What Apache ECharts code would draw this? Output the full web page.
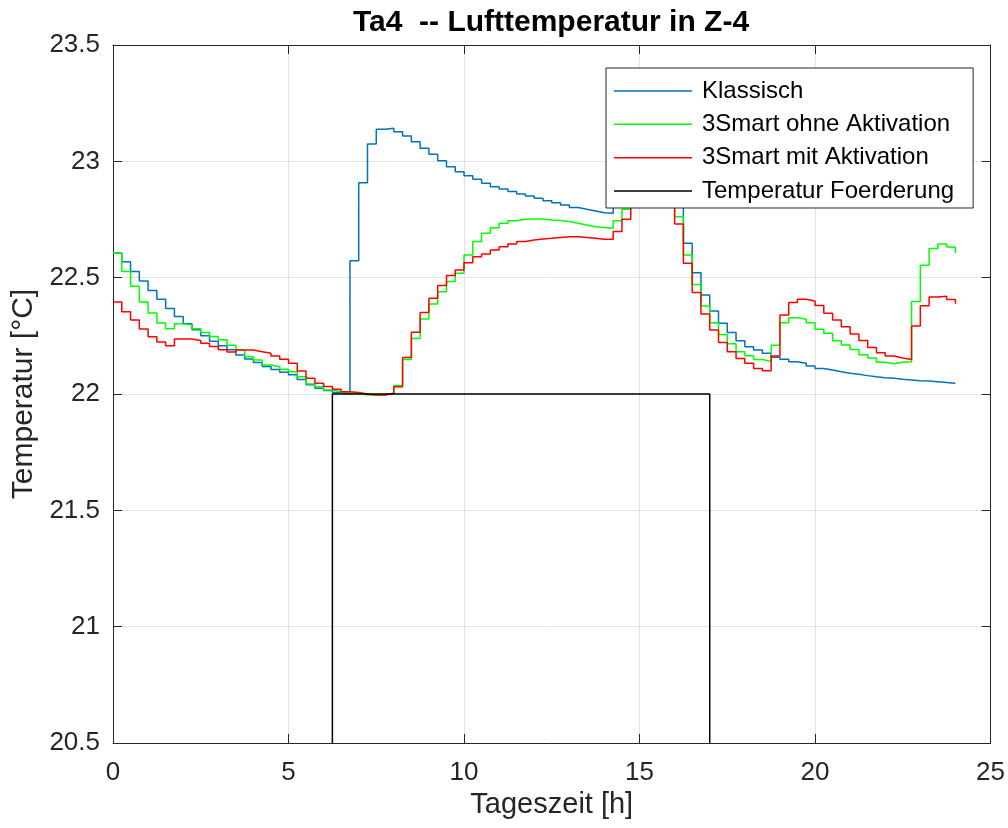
<!DOCTYPE html>
<html>
<head>
<meta charset="utf-8">
<script src="https://cdn.jsdelivr.net/npm/echarts@6/dist/echarts.min.js"></script>
<style>
  html, body { margin: 0; padding: 0; background: #ffffff; }
  #chart { width: 1008px; height: 828px; }
</style>
</head>
<body>
<div id="chart"></div>
<script>
// Sampling: one value every quarter hour, 0 h .. 24 h (97 samples, MATLAB stairs)
const STEP_H = 0.25;

const klassisch = [
  22.606, 22.568, 22.526, 22.486, 22.445, 22.407, 22.368, 22.333, 22.302, 22.276,
  22.250, 22.227, 22.207, 22.190, 22.168, 22.150, 22.135, 22.118, 22.105, 22.094,
  22.083, 22.062, 22.040, 22.025, 22.015, 22.006, 22.000, 22.573, 22.908, 23.075,
  23.138, 23.142, 23.127, 23.109, 23.084, 23.056, 23.030, 23.003, 22.977, 22.955,
  22.938, 22.923, 22.906, 22.891, 22.881, 22.870, 22.860, 22.851, 22.841, 22.831,
  22.822, 22.812, 22.802, 22.794, 22.787, 22.779, 22.777, 22.830, 22.870, 22.900,
  22.920, 22.930, 22.930, 22.920, 22.880, 22.648, 22.521, 22.426, 22.357, 22.304,
  22.264, 22.229, 22.203, 22.189, 22.175, 22.158, 22.149, 22.139, 22.132, 22.120,
  22.110, 22.103, 22.096, 22.089, 22.085, 22.079, 22.074, 22.070, 22.068, 22.063,
  22.060, 22.057, 22.056, 22.053, 22.049, 22.046, 22.044
];

const ohneAktivation = [
  22.606, 22.526, 22.463, 22.395, 22.348, 22.305, 22.280, 22.302, 22.296, 22.280,
  22.264, 22.247, 22.233, 22.210, 22.190, 22.160, 22.146, 22.125, 22.117, 22.106,
  22.096, 22.074, 22.043, 22.031, 22.017, 22.010, 22.003, 22.003, 21.996, 21.996,
  21.996, 22.003, 22.036, 22.148, 22.239, 22.322, 22.387, 22.440, 22.484, 22.519,
  22.597, 22.655, 22.691, 22.715, 22.734, 22.745, 22.751, 22.752, 22.752, 22.748,
  22.746, 22.741, 22.734, 22.726, 22.719, 22.716, 22.712, 22.745, 22.794, 22.840,
  22.870, 22.890, 22.890, 22.870, 22.762, 22.597, 22.471, 22.378, 22.306, 22.256,
  22.216, 22.182, 22.164, 22.148, 22.140, 22.210, 22.306, 22.328, 22.321, 22.306,
  22.278, 22.261, 22.229, 22.211, 22.191, 22.169, 22.155, 22.136, 22.130, 22.136,
  22.139, 22.398, 22.553, 22.625, 22.645, 22.632, 22.606
];

const mitAktivation = [
  22.395, 22.353, 22.318, 22.279, 22.246, 22.223, 22.207, 22.236, 22.236, 22.230,
  22.218, 22.204, 22.190, 22.180, 22.189, 22.189, 22.182, 22.175, 22.163, 22.149,
  22.132, 22.099, 22.068, 22.046, 22.032, 22.020, 22.010, 22.006, 22.000, 21.996,
  21.996, 22.003, 22.031, 22.157, 22.265, 22.350, 22.411, 22.466, 22.509, 22.533,
  22.564, 22.590, 22.602, 22.619, 22.633, 22.645, 22.655, 22.662, 22.666, 22.669,
  22.673, 22.676, 22.676, 22.673, 22.669, 22.665, 22.665, 22.698, 22.751, 22.820,
  22.850, 22.870, 22.870, 22.850, 22.731, 22.562, 22.436, 22.344, 22.275, 22.221,
  22.182, 22.153, 22.132, 22.110, 22.100, 22.163, 22.340, 22.393, 22.407, 22.400,
  22.380, 22.347, 22.318, 22.289, 22.258, 22.230, 22.200, 22.177, 22.163, 22.155,
  22.148, 22.292, 22.379, 22.417, 22.420, 22.406, 22.388
];

// Setpoint: 22 °C during occupancy, below the visible range otherwise
const foerderung = [
  20, 20, 20, 20, 20, 20, 20, 20, 20, 20,
  20, 20, 20, 20, 20, 20, 20, 20, 20, 20,
  20, 20, 20, 20, 20, 22, 22, 22, 22, 22,
  22, 22, 22, 22, 22, 22, 22, 22, 22, 22,
  22, 22, 22, 22, 22, 22, 22, 22, 22, 22,
  22, 22, 22, 22, 22, 22, 22, 22, 22, 22,
  22, 22, 22, 22, 22, 22, 22, 22, 20, 20,
  20, 20, 20, 20, 20, 20, 20, 20, 20, 20,
  20, 20, 20, 20, 20, 20, 20, 20, 20, 20,
  20, 20, 20, 20, 20, 20, 20
];

const seriesNames = ['Klassisch', '3Smart ohne Aktivation', '3Smart mit Aktivation', 'Temperatur Foerderung'];
const seriesColors = ['#0072BD', '#00FF00', '#FF0000', '#000000'];
const titleText = 'Ta4  -- Lufttemperatur in Z-4';
const xName = 'Tageszeit [h]';
const yName = 'Temperatur [°C]';

function pairs(values) {
  return values.map((v, i) => [i * STEP_H, v]);
}

const FONT = '"Liberation Sans", Arial, Helvetica, sans-serif';
const AX = '#262626';

const chart = echarts.init(document.getElementById('chart'), null, { renderer: 'canvas' });

const baseX = {
  type: 'value', min: 0, max: 25, interval: 5,
  axisLine: { show: true, onZero: false, lineStyle: { color: AX, width: 1 } },
  axisTick: { show: true, inside: true, length: 9, lineStyle: { color: AX } }
};
const baseY = {
  type: 'value', min: 20.5, max: 23.5, interval: 0.5,
  axisLine: { show: true, onZero: false, lineStyle: { color: AX, width: 1 } },
  axisTick: { show: true, inside: true, length: 9, lineStyle: { color: AX } }
};

const dataSets = [klassisch, ohneAktivation, mitAktivation, foerderung];

chart.setOption({
  animation: false,
  backgroundColor: '#ffffff',
  title: {
    text: titleText,
    left: 546,
    textAlign: 'center',
    top: 3,
    textStyle: { fontFamily: FONT, fontWeight: 'bold', fontSize: 30, color: '#000' }
  },
  grid: { left: 113, top: 45, width: 878, height: 698, show: false },
  legend: {
    orient: 'vertical',
    left: 606, top: 68,
    z: 50,
    padding: [11, 19, 5, 8],
    itemGap: 9.33,
    itemWidth: 78,
    itemHeight: 1.5,
    icon: 'rect',
    backgroundColor: '#ffffff',
    borderColor: '#262626',
    borderWidth: 1,
    borderRadius: 0,
    data: seriesNames.map((n) => ({ name: n, icon: 'rect' })),
    textStyle: { fontFamily: FONT, fontSize: 24, color: '#000', lineHeight: 24, padding: [0, 0, 0, 5] }
  },
  xAxis: [
    Object.assign({}, baseX, {
      position: 'bottom',
      name: xName, nameLocation: 'middle', nameGap: 46,
      nameTextStyle: { fontFamily: FONT, fontSize: 29, color: AX },
      axisLabel: { fontFamily: FONT, fontSize: 26, color: AX, margin: 17 },
      splitLine: { show: true, lineStyle: { color: '#e3e3e3', width: 1 } }
    }),
    Object.assign({}, baseX, {
      position: 'top',
      axisLabel: { show: false },
      splitLine: { show: false }
    })
  ],
  yAxis: [
    Object.assign({}, baseY, {
      position: 'left',
      name: yName, nameLocation: 'middle', nameGap: 74,
      nameTextStyle: { fontFamily: FONT, fontSize: 30, color: AX },
      axisLabel: { fontFamily: FONT, fontSize: 26, color: AX, margin: 13 },
      splitLine: { show: true, lineStyle: { color: '#e3e3e3', width: 1 } }
    }),
    Object.assign({}, baseY, {
      position: 'right',
      axisLabel: { show: false },
      splitLine: { show: false }
    })
  ],
  series: dataSets.map((d, i) => ({
    name: seriesNames[i],
    type: 'line',
    step: 'end',
    xAxisIndex: 0,
    yAxisIndex: 0,
    data: pairs(d),
    symbol: 'none',
    clip: true,
    color: seriesColors[i],
    lineStyle: { width: 1.5, color: seriesColors[i] },
    z: 2
  }))
});
</script>
</body>
</html>
